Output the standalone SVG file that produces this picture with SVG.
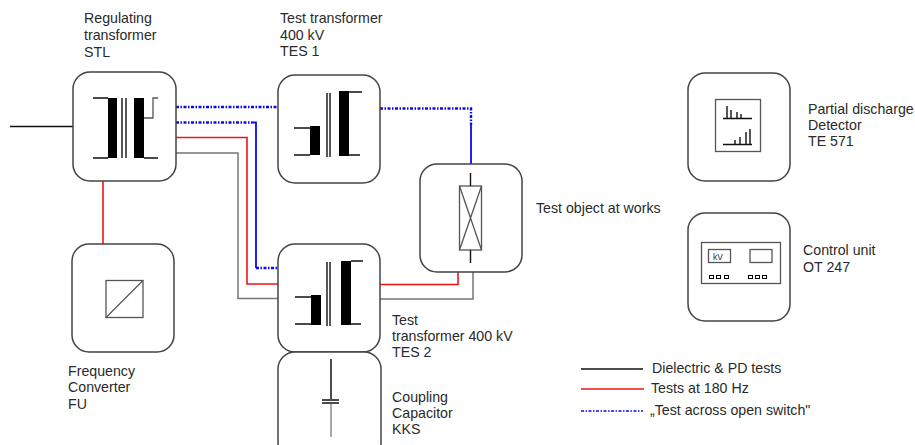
<svg xmlns="http://www.w3.org/2000/svg" width="915" height="445" viewBox="0 0 915 445">
<style>
.box{fill:#fff;stroke:#444;stroke-width:1.5}
.th{fill:none;stroke:#111;stroke-width:1.4}
.g{fill:none;stroke:#555;stroke-width:1.3}
.k{fill:#000;stroke:none}
.bl{fill:none;stroke:#111;stroke-width:1.5}
.re{fill:none;stroke:#f01414;stroke-width:1.6}
.gr{fill:none;stroke:#777;stroke-width:1.5}
.bu{fill:none;stroke:#0a0aee;stroke-width:1.8}
.do{stroke-width:2.4;stroke-dasharray:3 1.5 1.5 1.5}
text{font-family:"Liberation Sans",Arial,sans-serif;font-size:14.200px;fill:#2a2a2a}
</style>
<rect width="915" height="445" fill="#fff"/>
<g id="connectors">
<path class="bl" d="M10 126.500H73"/>
<path class="re" d="M103 181V244"/>
<path class="bu do" d="M176 107H278"/>
<path class="bu do" d="M176 122.500H252"/>
<path class="bu" d="M252 122.500H256V268"/>
<path class="bu do" d="M256 268H278"/>
<path class="re" d="M173 137.500H247V284H279"/>
<path class="gr" d="M176 153H238V298.500H279"/>
<path class="bu do" d="M380 108.500H471V125"/>
<path class="bu" d="M471 125V164"/>
<path class="re" d="M380 284.500H458V270"/>
<path class="gr" d="M380 299H473V272"/>
</g>
<g id="node-stl">
<rect class="box" x="73" y="72" width="103" height="109" rx="17"/>
<path class="k" d="M108 98h9v60h-9zM134 98h10v60h-10z"/>
<path class="th" d="M93 98H108M93 158H108M144 158H158M122 98V158M126 98V158"/>
<path class="g" d="M158 98H153V118H144"/>
<text x="84" y="23">Regulating</text><text x="84" y="40">transformer</text><text x="84" y="57">STL</text>
</g>
<g id="node-tes1">
<rect class="box" x="278" y="75" width="102" height="108" rx="17"/>
<path class="k" d="M310 126h10v29h-10zM339 91h10v65h-10z"/>
<path class="th" d="M294 128H310M294 155H310M349 92H362M349 155H360M327 93V157M330 93V157"/>
<text x="280" y="23">Test transformer</text><text x="280" y="40">400 kV</text><text x="280" y="56">TES 1</text>
</g>
<g id="node-tes2">
<rect class="box" x="278" y="244" width="102" height="108" rx="17"/>
<path class="k" d="M311 295h10v30h-10zM341 261h10v64h-10z"/>
<path class="th" d="M295 297H311M295 324H311M351 261H363M351 324H361M327 262V326M330 262V326"/>
<text x="392" y="325">Test</text><text x="392" y="341">transformer 400 kV</text><text x="392" y="357">TES 2</text>
</g>
<g id="node-kks">
<rect class="box" x="278" y="352" width="103" height="108" rx="17"/>
<path class="bl" d="M331 359V399M322 400H339M322 403H339"/>
<path fill="none" stroke="#aaa" stroke-width="2" d="M331 404V437"/>
<text x="392" y="402">Coupling</text><text x="392" y="418">Capacitor</text><text x="392" y="434">KKS</text>
</g>
<g id="node-test-object">
<rect class="box" x="420" y="164" width="102" height="108" rx="17"/>
<rect class="g" x="459.500" y="186" width="22" height="64"/>
<path class="th" d="M470.500 173V186M470.500 250V263"/>
<path class="g" d="M459.500 186L481.500 250M481.500 186L459.500 250"/>
<text x="536" y="213">Test object at works</text>
</g>
<g id="node-fu">
<rect class="box" x="72" y="244" width="102" height="108" rx="17"/>
<rect class="g" x="106" y="280.500" width="37" height="37"/>
<path class="g" d="M106 317.500L143 280.500"/>
<text x="68" y="376">Frequency</text><text x="68" y="392">Converter</text><text x="68" y="409">FU</text>
</g>
<g id="node-pd">
<rect class="box" x="688" y="73" width="102" height="108" rx="17"/>
<rect class="g" x="715.500" y="99.500" width="45" height="52"/>
<path class="th" d="M723 118.500H752M727 118V106M731 118V110M737 118V112M741 118V114M723 144.500H752M735 144V140M740 144V137M746 144V132M750 144V129"/>
<text x="808" y="114">Partial discharge</text><text x="808" y="130">Detector</text><text x="808" y="146">TE 571</text>
</g>
<g id="node-ot">
<rect class="box" x="688" y="213" width="102" height="108" rx="17"/>
<rect class="g" x="701.500" y="242.500" width="79" height="41" stroke="#777"/>
<rect class="g" x="708.500" y="249.500" width="22" height="13"/>
<rect class="g" x="750" y="249.500" width="22" height="13"/>
<text x="713" y="260" style="font-size:8.500px">kV</text>
<path class="k" d="M709 275h5v4h-5zM716 275h5v4h-5zM724 275h5v4h-5zM748 275h5v4h-5zM755 275h5v4h-5zM762 275h5v4h-5z"/>
<path fill="#fff" d="M710 276h3v2h-3zM717 276h3v2h-3zM725 276h3v2h-3zM749 276h3v2h-3zM756 276h3v2h-3zM763 276h3v2h-3z"/>
<text x="803" y="255">Control unit</text><text x="803" y="272">OT 247</text>
</g>
<g id="legend">
<path class="bl" d="M581 369H643"/>
<path class="re" d="M581 389H644"/>
<path class="bu do" d="M581 411H643" style="stroke-width:1.5"/>
<text x="652" y="373">Dielectric &amp; PD tests</text>
<text x="651" y="393">Tests at 180 Hz</text>
<text x="650" y="415">„Test across open switch"</text>
</g>
</svg>
